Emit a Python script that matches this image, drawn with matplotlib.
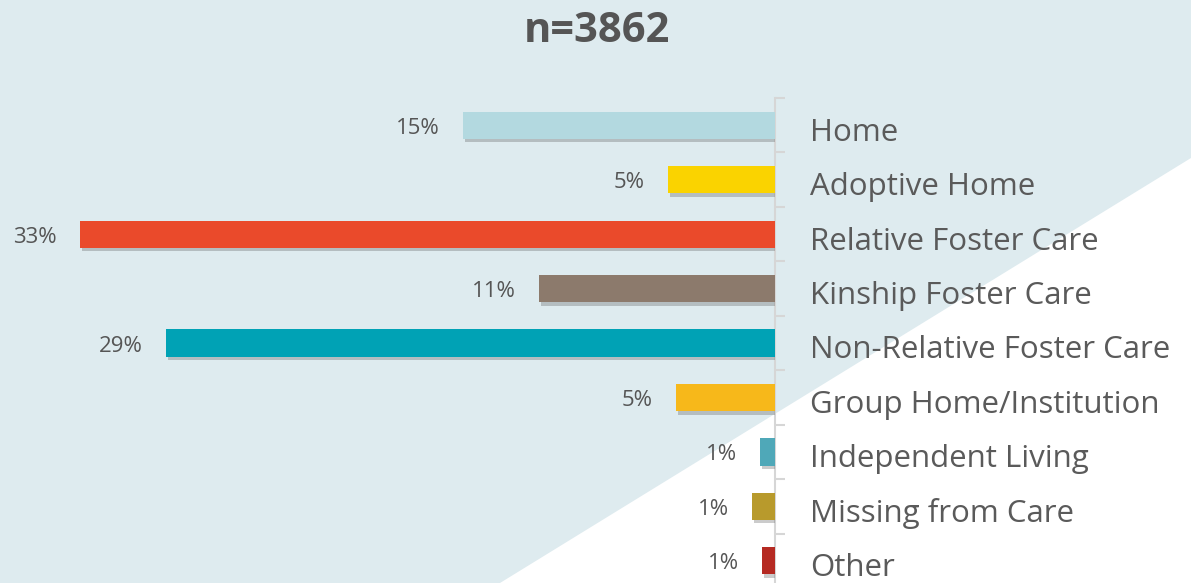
import numpy as np
import matplotlib
matplotlib.use("Agg")
import matplotlib.pyplot as plt
from matplotlib.patches import Polygon
import matplotlib.patheffects as pe
from matplotlib.transforms import ScaledTranslation

# %% Data
categories = ["Home", "Adoptive Home", "Relative Foster Care", "Kinship Foster Care",
              "Non-Relative Foster Care", "Group Home/Institution", "Independent Living",
              "Missing from Care", "Other"]
values = [14.8, 5.1, 33.0, 11.2, 28.9, 4.7, 0.7, 1.1, 0.6]
value_labels = ["15%", "5%", "33%", "11%", "29%", "5%", "1%", "1%", "1%"]
colors = ["#b3d9e0", "#fad300", "#ea4a2b", "#8c7a6c", "#00a2b5",
          "#f7b81a", "#4fa8b8", "#b89a2c", "#b52a22"]
title = "n=3862"

# %% Plot
W, H = 1191, 583
fig = plt.figure(figsize=(W / 100, H / 100), dpi=100)
fig.patch.set_facecolor("#deebef")

# white triangle in lower right
tri = Polygon([(1.0, 1 - 158 / H), (1.0, 0.0), (500 / W, 0.0)], closed=True,
              transform=fig.transFigure, facecolor="white", edgecolor="none", zorder=-5)
fig.patches.append(tri)

ax = fig.add_axes([0.0, -5 / H, 775 / W, (588 - 98) / H])
ax.set_facecolor("none")
ax.set_zorder(2)

y = np.arange(len(categories))
bars = ax.barh(y, values, height=0.5, color=colors, zorder=3)
for b in bars:
    b.set_path_effects([pe.SimplePatchShadow(offset=(1.5, -2.5), shadow_rgbFace="#555555", alpha=0.3),
                        pe.Normal()])

px_per_unit = 21.06
xmax = 775 / px_per_unit
ax.set_xlim(xmax, 0)
ax.set_ylim(len(categories) - 0.5, -0.5)

down = ScaledTranslation(0, -3 / 100, fig.dpi_scale_trans)
for yi, v, lab in zip(y, values, value_labels):
    ax.text(v + 1.1, yi, lab, ha="right", va="center", fontsize=16,
            color="#555555", family="Open Sans", transform=ax.transData + down)

# axis styling
for s in ["top", "bottom", "left"]:
    ax.spines[s].set_visible(False)
ax.spines["right"].set_color("#d6d6d6")
ax.spines["right"].set_linewidth(1.5)
ax.set_xticks([])
ax.yaxis.tick_right()
ax.set_yticks(y)
ax.set_yticklabels(categories, fontsize=22.5, color="#5a5a5a", family="Open Sans")
ax.tick_params(axis="y", which="major", length=0, pad=25)
for t in ax.get_yticklabels():
    t.set_transform(t.get_transform() + ScaledTranslation(0, -4 / 100, fig.dpi_scale_trans))
ax.set_yticks(np.arange(len(categories) + 1) - 0.5, minor=True)
ax.tick_params(axis="y", which="minor", length=7, width=1.5, color="#d6d6d6")

fig.text(597 / W, 1 - 32 / H, title, ha="center", va="center", fontsize=30,
         fontweight="bold", color="#555555", family="Open Sans")

fig.savefig("out.png", dpi=100, facecolor=fig.get_facecolor())
